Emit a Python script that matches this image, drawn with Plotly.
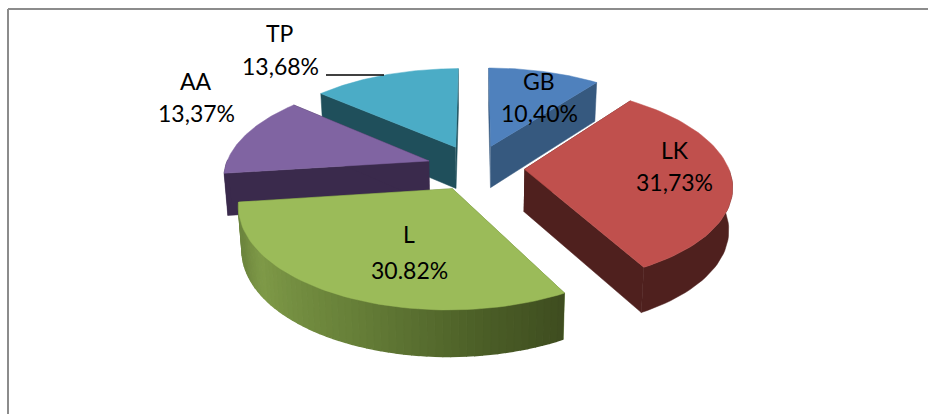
import numpy as np
import plotly.graph_objects as go

categories = ["GB", "LK", "L", "AA", "TP"]
values = [10.40, 31.73, 30.82, 13.37, 13.68]
value_labels = ["10,40%", "31,73%", "30.82%", "13,37%", "13,68%"]
top_colors = ["#4f81bd", "#c0504d", "#9bbb59", "#8064a2", "#4bacc6"]
wall_colors = ["#36597f", "#4f201e", "#5f7a34", "#3a2a4c", "#1f4f5b"]

EXPLODE = 0.24
F, G, P, CX, CY, H = 204.0, 96.0, 0.15, 475.5, 167.5, 42.0


def project(x, y, bottom=False):
    x, y = np.asarray(x, float), np.asarray(y, float)
    s = 1 / (1 + P * y)
    sx = F * x * s
    sy = CY - G * y * s
    if bottom:
        sx = sx * 0.985
        sy = sy + H / (1 + 0.08 * y)
    return CX + sx, sy


def poly(xs, ys, color, lw=0.5):
    return go.Scatter(x=list(xs), y=list(ys), mode="lines", fill="toself", fillcolor=color,
                      line=dict(width=lw, color=color), hoverinfo="skip", showlegend=False)


def lerp_color(stops, t):
    pos = [p for p, _ in stops]
    rgb = np.array([[int(c[i:i + 2], 16) for i in (1, 3, 5)] for _, c in stops], float)
    v = [np.interp(t, pos, rgb[:, k]) for k in range(3)]
    return "rgb(%d,%d,%d)" % tuple(v)


L_STOPS = [(0.0, "#3f4d20"), (0.18, "#4b5e27"), (0.45, "#667f38"), (0.75, "#7f9a48"), (0.87, "#6f883f"), (1.0, "#6d863f")]

# slice geometry derives from the values
total = sum(values)
edges = np.cumsum([0] + values) / total * 2 * np.pi
slices = []
for i, name in enumerate(categories):
    a0, a1 = edges[i], edges[i + 1]
    mid = (a0 + a1) / 2
    slices.append(dict(i=i, a0=a0, a1=a1, tx=EXPLODE * np.sin(mid), ty=EXPLODE * np.cos(mid)))

fig = go.Figure()
for sl in sorted(slices, key=lambda d: -d["ty"]):
    i, a0, a1, tx, ty = sl["i"], sl["a0"], sl["a1"], sl["tx"], sl["ty"]
    # radial walls
    for a in (a0, a1):
        ex, ey = tx + np.sin(a), ty + np.cos(a)
        tops = project([tx, ex], [ty, ey])
        bots = project([ex, tx], [ey, ty], True)
        fig.add_trace(poly(np.r_[tops[0], bots[0]], np.r_[tops[1], bots[1]], wall_colors[i]))
    # outer wall
    aa = np.linspace(a0, a1, 61)
    front = aa[np.cos(aa) <= 0.02]
    if len(front) > 1:
        if categories[i] == "L":
            for j in range(len(front) - 1):
                t = ((front[j] + front[j + 1]) / 2 - a0) / (a1 - a0)
                seg_x, seg_y = tx + np.sin(front[j:j + 2]), ty + np.cos(front[j:j + 2])
                tops = project(seg_x, seg_y)
                bots = project(seg_x[::-1], seg_y[::-1], True)
                fig.add_trace(poly(np.r_[tops[0], bots[0]], np.r_[tops[1], bots[1]], lerp_color(L_STOPS, t), lw=1.5))
        else:
            seg_x, seg_y = tx + np.sin(front), ty + np.cos(front)
            tops = project(seg_x, seg_y)
            bots = project(seg_x[::-1], seg_y[::-1], True)
            fig.add_trace(poly(np.r_[tops[0], bots[0]], np.r_[tops[1], bots[1]], wall_colors[i]))
    # top face
    xs = np.r_[tx, tx + np.sin(aa), tx]
    ys = np.r_[ty, ty + np.cos(aa), ty]
    px, py = project(xs, ys)
    fig.add_trace(poly(px, py, top_colors[i]))

name_pos = {"GB": (539, 81), "LK": (675, 150), "L": (409, 234), "AA": (196, 81), "TP": (280, 33)}
value_pos = {"GB": (539, 113), "LK": (674, 182), "L": (409, 270), "AA": (196, 113), "TP": (280, 66)}
annotations = []
for n, t in zip(categories, value_labels):
    for pos, s in ((name_pos[n], n), (value_pos[n], t)):
        annotations.append(dict(x=pos[0], y=pos[1], xref="x", yref="y", showarrow=False, text=s,
                                font=dict(family="Lato", size=23, color="#000000")))

fig.update_layout(
    width=928, height=414, margin=dict(l=0, r=0, t=0, b=0), autosize=False,
    paper_bgcolor="white", plot_bgcolor="white", showlegend=False,
    xaxis=dict(range=[0, 928], visible=False, fixedrange=True),
    yaxis=dict(range=[414, 0], visible=False, fixedrange=True),
    annotations=annotations,
    shapes=[
        dict(type="line", xref="x", yref="y", x0=326, x1=384, y0=75, y1=75, line=dict(color="#000000", width=1.5)),
        dict(type="line", xref="x", yref="y", x0=8, x1=928, y0=9, y1=9, line=dict(color="#8c8c8c", width=2)),
        dict(type="line", xref="x", yref="y", x0=8, x1=8, y0=9, y1=414, line=dict(color="#8c8c8c", width=2)),
    ],
)
fig.write_html("out.html", config=dict(displayModeBar=False),
               post_script="document.body.style.margin='0';document.documentElement.style.overflow='hidden';")
